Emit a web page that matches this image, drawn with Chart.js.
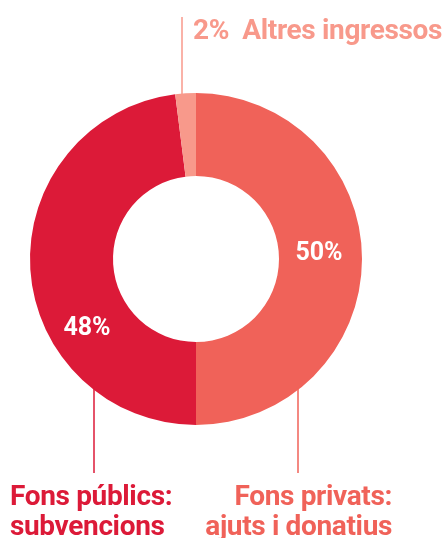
<!DOCTYPE html>
<html>
<head>
<meta charset="utf-8">
<script src="https://cdn.jsdelivr.net/npm/chart.js@4/dist/chart.umd.min.js"></script>
<style>
  html, body { margin: 0; padding: 0; background: #fff; }
  #wrap { width: 447px; height: 538px; position: relative; }
</style>
</head>
<body>
<div id="wrap"><canvas id="donut"></canvas></div>
<script>
// Dades del gràfic
const categories = ['Fons privats: ajuts i donatius', 'Fons públics: subvencions', 'Altres ingressos'];
const values = [50, 48, 2];
const percentLabels = ['50%', '48%', '2%'];
const colors = ['#F06259', '#DC1A38', '#F8998B'];

const FONT = 'Roboto, "Noto Sans", sans-serif';

// Etiquetes i línies guia
const labelsPlugin = {
    id: 'labelsPlugin',
    afterDraw(chart) {
        const ctx = chart.ctx;
        const arc = chart.getDatasetMeta(0).data[0];
        const cx = arc.x, cy = arc.y, r = arc.outerRadius;

        ctx.save();
        // percentatges dins l'anell
        ctx.fillStyle = '#ffffff';
        ctx.font = '700 25px ' + FONT;
        ctx.textAlign = 'center';
        ctx.textBaseline = 'alphabetic';
        ctx.fillText(percentLabels[0], cx + 123, cy + 1);
        ctx.fillText(percentLabels[1], cx - 109, cy + 76);

        // línies guia
        ctx.lineWidth = 1.5;
        ctx.strokeStyle = colors[2];
        ctx.beginPath();
        ctx.moveTo(cx - 14, cy - r - 76);
        ctx.lineTo(cx - 14, cy - r + 1);
        ctx.stroke();

        ctx.strokeStyle = colors[1];
        ctx.beginPath();
        ctx.moveTo(cx - 102, cy + 128);
        ctx.lineTo(cx - 102, cy + 214);
        ctx.stroke();

        ctx.strokeStyle = colors[0];
        ctx.beginPath();
        ctx.moveTo(cx + 102, cy + 128);
        ctx.lineTo(cx + 102, cy + 214);
        ctx.stroke();

        // textos
        ctx.font = '700 28px ' + FONT;
        ctx.letterSpacing = '-0.35px';
        ctx.fillStyle = colors[2];
        ctx.textAlign = 'left';
        ctx.fillText(percentLabels[2] + '  ' + categories[2], cx - 3, cy - r - 54);

        ctx.fillStyle = colors[1];
        ctx.fillText('Fons públics:', 10, cy + 246);
        ctx.fillText('subvencions', 10, cy + 276);

        ctx.fillStyle = colors[0];
        ctx.textAlign = 'right';
        ctx.fillText('Fons privats:', 392, cy + 246);
        ctx.fillText('ajuts i donatius', 392, cy + 276);
        ctx.restore();
    }
};

new Chart(document.getElementById('donut'), {
    type: 'doughnut',
    data: {
        labels: categories,
        datasets: [{
            data: values,
            backgroundColor: colors,
            borderWidth: 0
        }]
    },
    options: {
        responsive: true,
        maintainAspectRatio: false,
        animation: false,
        cutout: '50%',
        rotation: 0,
        layout: { padding: { left: 30, right: 85, top: 93, bottom: 113 } },
        plugins: {
            legend: { display: false },
            tooltip: { enabled: false }
        }
    },
    plugins: [labelsPlugin]
});
</script>
</body>
</html>
